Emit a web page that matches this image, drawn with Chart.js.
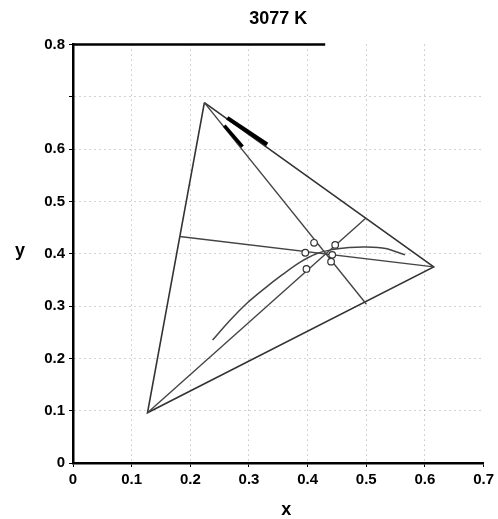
<!DOCTYPE html>
<html>
<head>
<meta charset="utf-8">
<script src="https://cdn.jsdelivr.net/npm/chart.js@4"></script>
<style>
  html, body { margin: 0; padding: 0; background: #fff; }
  #wrap { width: 498px; height: 519px; }
</style>
</head>
<body>
<div id="wrap"><canvas id="cie"></canvas></div>
<script>
// tick labels
const xTickLabels = ['0', '0.1', '0.2', '0.3', '0.4', '0.5', '0.6', '0.7'];
const yTickLabels = ['0', '0.1', '0.2', '0.3', '0.4', '0.5', '0.6', '', '0.8'];

// RGB gamut triangle (G, R, B, back to G)
const gamutX = [0.224, 0.615, 0.127, 0.224];
const gamutY = [0.689, 0.375, 0.096, 0.689];

// lines from each primary across the white point
const lineRedX = [0.182, 0.615];
const lineRedY = [0.433, 0.375];
const lineGreenX = [0.224, 0.500];
const lineGreenY = [0.689, 0.304];
const lineBlueX = [0.127, 0.500];
const lineBlueY = [0.096, 0.469];

// blackbody locus
const locusX = [0.238, 0.267, 0.297, 0.328, 0.357, 0.386, 0.415, 0.442, 0.471, 0.500, 0.533, 0.566];
const locusY = [0.235, 0.272, 0.306, 0.335, 0.360, 0.383, 0.400, 0.408, 0.412, 0.413, 0.410, 0.398];

// measured points round 3077 K
const pointX = [0.411, 0.447, 0.396, 0.442, 0.440, 0.398];
const pointY = [0.421, 0.417, 0.402, 0.398, 0.385, 0.371];

// short heavy strokes near the green corner
const strokeAX = [0.263, 0.331];
const strokeAY = [0.660, 0.609];
const strokeBX = [0.258, 0.289];
const strokeBY = [0.645, 0.605];

// piece of the top frame
const frameX = [0, 0.43];
const frameY = [0.8, 0.8];

function pts(xs, ys) {
    return xs.map((x, i) => ({ x: x, y: ys[i] }));
}

function lineSet(xs, ys, color, width) {
    return {
        data: pts(xs, ys),
        showLine: true,
        borderColor: color,
        borderWidth: width,
        pointRadius: 0,
        fill: false
    };
}

const FONT = "'Liberation Sans', Arial, sans-serif";

// upright axis titles, placed as in the scan
const axisTitles = {
    id: 'axisTitles',
    afterDraw(chart) {
        const c = chart.ctx;
        const area = chart.chartArea;
        c.save();
        c.font = 'bold 18px ' + FONT;
        c.fillStyle = '#000';
        c.textAlign = 'center';
        c.textBaseline = 'middle';
        c.fillText('y', 20, (area.top + area.bottom) / 2 - 3);
        c.fillText('x', (area.left + area.right) / 2 + 8, area.bottom + 47);
        c.restore();
    }
};

function gridColor(context) {
    const v = context.tick ? context.tick.value : 0;
    const scale = context.scale;
    if (v >= scale.max - 1e-9) return 'rgba(0,0,0,0)';
    return 'rgba(0,0,0,0.35)';
}

const ctx = document.getElementById('cie').getContext('2d');
new Chart(ctx, {
    type: 'scatter',
    data: {
        datasets: [
            {
                data: pts(pointX, pointY),
                pointRadius: 3.3,
                pointBorderWidth: 1.2,
                pointBackgroundColor: '#fff',
                pointBorderColor: '#333',
                showLine: false
            },
            lineSet(strokeAX, strokeAY, '#000', 4),
            lineSet(strokeBX, strokeBY, '#000', 3.5),
            Object.assign(lineSet(locusX, locusY, '#444', 1.5), { tension: 0.3 }),
            lineSet(lineRedX, lineRedY, '#444', 1.4),
            lineSet(lineGreenX, lineGreenY, '#444', 1.4),
            lineSet(lineBlueX, lineBlueY, '#444', 1.4),
            lineSet(gamutX, gamutY, '#333', 1.6),
            Object.assign(lineSet(frameX, frameY, '#000', 2.5), { clip: false })
        ]
    },
    options: {
        responsive: true,
        maintainAspectRatio: false,
        animation: false,
        layout: { padding: { left: 0, right: 13, top: 0, bottom: 0 } },
        plugins: {
            legend: { display: false },
            tooltip: { enabled: false },
            title: {
                display: true,
                text: '3077 K',
                fullSize: false,
                color: '#000',
                font: { family: FONT, size: 18, weight: 'bold', lineHeight: 1.2 },
                padding: { top: 8, bottom: 15 }
            }
        },
        scales: {
            x: {
                type: 'linear',
                min: 0,
                max: 0.7,
                afterFit: (axis) => { axis.height = 56; },
                border: { display: true, color: '#000', width: 2.5, dash: [1, 4] },
                grid: {
                    color: gridColor,
                    lineWidth: 1,
                    tickColor: '#000',
                    tickBorderDash: [],
                    tickLength: 4
                },
                ticks: {
                    stepSize: 0.1,
                    color: '#000',
                    padding: 4,
                    maxRotation: 0,
                    font: { family: FONT, size: 15, weight: 'bold' },
                    callback: (v, i) => xTickLabels[i]
                }
            },
            y: {
                type: 'linear',
                min: 0,
                max: 0.8,
                afterFit: (axis) => { axis.width = 73; },
                border: { display: true, color: '#000', width: 2.5, dash: [1, 4] },
                grid: {
                    color: gridColor,
                    lineWidth: 1,
                    tickColor: '#000',
                    tickBorderDash: [],
                    tickLength: 4
                },
                ticks: {
                    stepSize: 0.1,
                    color: '#000',
                    padding: 4,
                    font: { family: FONT, size: 15, weight: 'bold' },
                    callback: (v, i) => yTickLabels[i]
                }
            }
        }
    },
    plugins: [axisTitles]
});
</script>
</body>
</html>
